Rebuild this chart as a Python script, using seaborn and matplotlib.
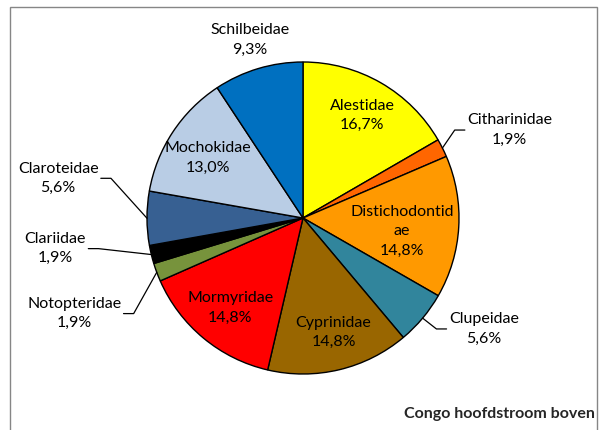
import textwrap

import numpy as np
import matplotlib
matplotlib.use("Agg")
import matplotlib.pyplot as plt
from matplotlib.patches import Rectangle
import seaborn as sns

# data (clockwise from 12 o'clock)
families = [
    "Alestidae", "Citharinidae", "Distichodontidae", "Clupeidae", "Cyprinidae",
    "Mormyridae", "Notopteridae", "Clariidae", "Claroteidae", "Mochokidae",
    "Schilbeidae",
]
shares = [16.7, 1.9, 14.8, 5.6, 14.8, 14.8, 1.9, 1.9, 5.6, 13.0, 9.3]
slice_colors = [
    "#FFFF00", "#FF6600", "#FF9900", "#31859C", "#996600",
    "#FF0000", "#77933C", "#000000", "#376092", "#B9CDE5",
    "#0070C0",
]
chart_title = "Congo hoofdstroom boven"

# label placement: radius (in pie radii), angle shift from slice middle, leader line
label_radius = [0.76, 1.44, 0.64, 1.36, 0.76, 0.74, 1.59, 1.60, 1.59, 0.72, 1.19]
label_shift = [0, -3.6, -4.2, 8.4, 1.5, 0.7, 2.3, -6.5, -9.3, 1.0, 0]
has_leader = [False, True, False, True, False, False, True, True, True, False, False]

sns.set_theme(style="white")
plt.rcParams["font.family"] = ["Lato", "DejaVu Sans"]

W, H = 603, 430
fig = plt.figure(figsize=(W / 100, H / 100), dpi=100)
cx, cy, R = 303, 218, 156
ax = fig.add_axes([(cx - R) / W, (H - cy - R) / H, 2 * R / W, 2 * R / H])

wedges, _ = ax.pie(
    shares, colors=slice_colors, startangle=90, counterclock=False,
    wedgeprops=dict(edgecolor="black", linewidth=1.0),
)
ax.set_xlim(-1, 1)
ax.set_ylim(-1, 1)
ax.set_aspect("equal")
ax.axis("off")

texts = []
for w, name, val, r, sh in zip(wedges, families, shares, label_radius, label_shift):
    mid = np.deg2rad((w.theta1 + w.theta2) / 2)
    ang = mid + np.deg2rad(sh)
    label = "\n".join(textwrap.wrap(name, 14)) + "\n" + f"{val:.1f}%".replace(".", ",")
    t = ax.text(r * np.cos(ang), r * np.sin(ang), label, ha="center", va="center",
                fontsize=11.5, linespacing=1.5, color="black")
    texts.append((t, mid))

fig.canvas.draw()
renderer = fig.canvas.get_renderer()
inv = ax.transData.inverted()
for (t, mid), lead in zip(texts, has_leader):
    if not lead:
        continue
    bb = t.get_window_extent(renderer).transformed(inv)
    x0, y0 = np.cos(mid), np.sin(mid)
    ly = t.get_position()[1]
    if x0 > 0:
        xe = bb.x0 - 0.015
        xk = xe - 0.065
    else:
        xe = bb.x1 + 0.015
        xk = xe + 0.065
    ax.plot([x0, xk, xe], [y0, ly, ly], color="black", lw=0.9, clip_on=False)

fig.text(595 / W, 1 - 418 / H, chart_title, ha="right", va="baseline",
         fontsize=11.5, fontweight="bold")

frame = Rectangle((10 / W, -0.05), 587 / W, 1.05 - 7 / H, transform=fig.transFigure,
                  fill=False, edgecolor="#868686", linewidth=1.0)
fig.add_artist(frame)

fig.savefig("out.png", dpi=100)
